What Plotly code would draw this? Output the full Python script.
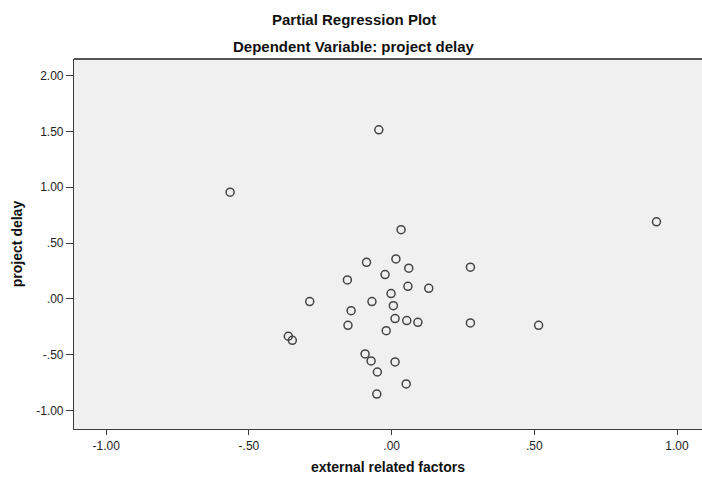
import plotly.graph_objects as go

# Data
external_related_factors = [
    -0.045, -0.566, 0.033, 0.928,
    -0.088, 0.015, 0.060, 0.276, -0.023, -0.155, 0.057, 0.130,
    -0.002, -0.287, -0.069, 0.006, -0.142, 0.012, 0.053, 0.092,
    0.276, -0.153, -0.019, -0.362, -0.348, -0.093, -0.072, 0.012,
    -0.050, 0.051, -0.052, 0.515,
]
project_delay = [
    1.513, 0.955, 0.620, 0.690,
    0.328, 0.358, 0.275, 0.284, 0.218, 0.170, 0.113, 0.095,
    0.048, -0.024, -0.024, -0.060, -0.105, -0.176, -0.194, -0.209,
    -0.215, -0.236, -0.284, -0.334, -0.370, -0.492, -0.555, -0.564,
    -0.654, -0.761, -0.851, -0.236,
]

x_tick_vals = [-1.0, -0.5, 0.0, 0.5, 1.0]
x_tick_text = ["-1.00", "-.50", ".00", ".50", "1.00"]
y_tick_vals = [-1.0, -0.5, 0.0, 0.5, 1.0, 1.5, 2.0]
y_tick_text = ["-1.00", "-.50", ".00", ".50", "1.00", "1.50", "2.00"]

title_main = "Partial Regression Plot"
title_sub = "Dependent Variable: project delay"
x_title = "external related factors"
y_title = "project delay"

FONT = "Liberation Sans, Arial, sans-serif"
AXIS_COLOR = "#3c3c3c"

fig = go.Figure(
    go.Scatter(
        x=external_related_factors,
        y=project_delay,
        mode="markers",
        marker=dict(
            symbol="circle-open",
            size=8,
            color="#444444",
            line=dict(width=1.5, color="#444444"),
        ),
        hoverinfo="x+y",
    )
)

fig.update_layout(
    width=702,
    height=477,
    margin=dict(l=73.5, r=0, t=58.5, b=48),
    paper_bgcolor="white",
    plot_bgcolor="#F0F0F0",
    showlegend=False,
    font=dict(family=FONT, color="#222222"),
    annotations=[
        dict(text="<b>" + title_main + "</b>", xref="paper", yref="paper",
             x=0.446, y=1.1066, showarrow=False, xanchor="center", yanchor="middle",
             font=dict(size=15, family=FONT, color="#111111")),
        dict(text="<b>" + title_sub + "</b>", xref="paper", yref="paper",
             x=0.446, y=1.0337, showarrow=False, xanchor="center", yanchor="middle",
             font=dict(size=15, family=FONT, color="#111111")),
    ],
    shapes=[
        dict(type="line", xref="paper", yref="paper", x0=0, x1=1, y0=1, y1=1,
             line=dict(color="#555555", width=2)),
    ],
)

fig.update_xaxes(
    range=[-1.113, 1.0875],
    tickvals=x_tick_vals,
    ticktext=x_tick_text,
    ticks="outside",
    ticklen=5,
    tickwidth=1,
    tickcolor=AXIS_COLOR,
    showline=True,
    linecolor=AXIS_COLOR,
    linewidth=1.2,
    showgrid=False,
    zeroline=False,
    tickfont=dict(size=12, family=FONT, color="#222222"),
    title=dict(text="<b>" + x_title + "</b>", font=dict(size=14, family=FONT, color="#111111"),
               standoff=10),
)
fig.update_yaxes(
    range=[-1.164, 2.147],
    tickvals=y_tick_vals,
    ticktext=y_tick_text,
    ticks="outside",
    ticklen=7,
    tickwidth=1,
    tickcolor=AXIS_COLOR,
    showline=True,
    linecolor=AXIS_COLOR,
    linewidth=1.2,
    showgrid=False,
    zeroline=False,
    tickfont=dict(size=12, family=FONT, color="#222222"),
    title=dict(text="<b>" + y_title + "</b>", font=dict(size=14, family=FONT, color="#111111"),
               standoff=10),
)

fig.write_html("out.html")
